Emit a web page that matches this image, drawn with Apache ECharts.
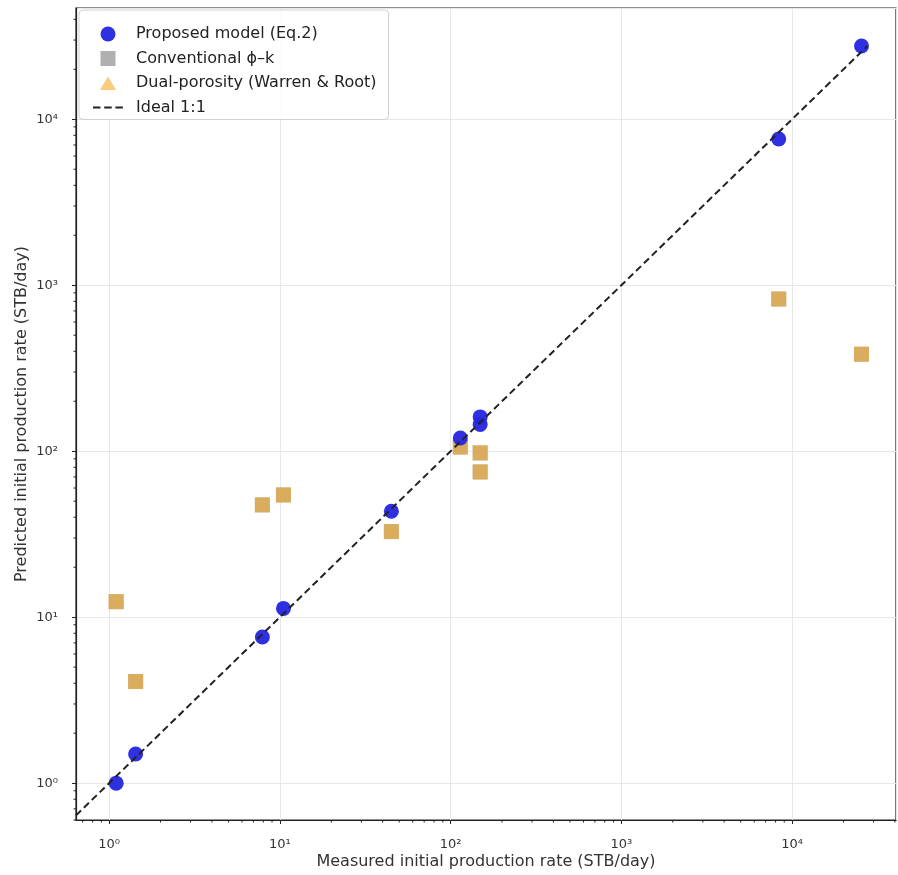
<!DOCTYPE html>
<html>
<head>
<meta charset="utf-8">
<script src="https://cdn.jsdelivr.net/npm/echarts@6/dist/echarts.min.js"></script>
<style>html,body{margin:0;padding:0;background:#fff}#c{width:898px;height:875px}</style>
</head>
<body>
<div id="c"></div>
<script>
// Measured initial production rate (STB/day)
const measured = [1.1, 1.43, 7.9, 10.5, 45, 114, 149, 149, 8350, 25500];
// Proposed model (Eq.2)
const proposed = [1.0, 1.5, 7.6, 11.3, 43.5, 120, 161, 145, 7600, 27600];
// Conventional phi-k
const conventional = [12.4, 4.1, 47.5, 54.5, 32.8, 106, 97.7, 75, 826, 384];
// Dual-porosity (Warren & Root) — overlapping conventional markers
const dualPorosity = [12.4, 4.1, 47.5, 54.5, 32.8, 106, 97.7, 75, 826, 384];
// Ideal 1:1 line end points
const idealLine = [0.64, 27500];
const xRange = [0.64, 40600];
const yRange = [0.60, 46800];

const sup = {'0':'\u2070','1':'\u00b9','2':'\u00b2','3':'\u00b3','4':'\u2074','5':'\u2075','6':'\u2076','7':'\u2077','8':'\u2078','9':'\u2079','-':'\u207b'};
function fmt(v){
  const e = Math.log10(v);
  const r = Math.round(e);
  if (Math.abs(e - r) > 1e-6) return '';
  return '10' + String(r).split('').map(c => sup[c]).join('');
}
function minorVals(lo, hi){
  const out = [];
  for (let k = Math.floor(Math.log10(lo)); k <= Math.ceil(Math.log10(hi)); k++){
    for (let m = 2; m <= 9; m++){
      const v = m * Math.pow(10, k);
      if (v > lo && v < hi) out.push(v);
    }
  }
  return out;
}
const xMinor = minorVals(xRange[0], xRange[1]);
const yMinor = minorVals(yRange[0], yRange[1]);

// legend icons (bounding box 30x15 kept by tiny corner points)
const B0 = 'M0,0h0.01v0.01h-0.01z ';
const B1 = ' M29.99,14.99h0.01v0.01h-0.01z';
const iconSquare = 'path://' + B0 + 'M7.5,0h15v15h-15z' + B1;
const iconTri = 'path://' + B0 + 'M7,14.5 L15,1 L23,14.5 Z' + B1;
const iconDash = 'path://' + B0 + 'M0,6.5h7.5v2h-7.5z M11.2,6.5h7.5v2h-7.5z M22.4,6.5h7.5v2h-7.5z' + B1;

const font = 'DejaVu Sans';
const chart = echarts.init(document.getElementById('c'), null, {renderer:'canvas'});
chart.setOption({
  animation: false,
  backgroundColor: '#fff',
  textStyle: {fontFamily: font},
  grid: {left: 76, right: 2, top: 8, bottom: 55, show: true, borderColor: '#222', borderWidth: 1.2, backgroundColor: 'transparent', containLabel: false, outerBoundsMode: 'none'},
  legend: {
    orient: 'vertical', left: 79, top: 10,
    itemWidth: 30, itemHeight: 15, itemGap: 8.5,
    padding: [16, 12, 4, 14],
    borderColor: '#d0d0d0', borderWidth: 1, borderRadius: 4, backgroundColor: 'rgba(255,255,255,0.85)',
    textStyle: {fontFamily: font, fontSize: 16, color: '#222', padding: [0, 0, 0, 8]},
    itemStyle: {borderWidth: 0},
    data: [
      {name: 'Proposed model (Eq.2)', icon: 'circle'},
      {name: 'Conventional \u03d5\u2013k', icon: iconSquare},
      {name: 'Dual-porosity (Warren & Root)', icon: iconTri},
      {name: 'Ideal 1:1', icon: iconDash}
    ]
  },
  xAxis: {
    type: 'log', logBase: 10, min: xRange[0], max: xRange[1],
    name: 'Measured initial production rate (STB/day)', nameLocation: 'middle', nameGap: 34, nameMoveOverlap: false,
    nameTextStyle: {fontFamily: font, fontSize: 16, color: '#333'},
    axisLine: {show: true, lineStyle: {color: '#222', width: 1.2}},
    axisTick: {show: true, length: 4, lineStyle: {color: '#222'}},
    axisLabel: {formatter: fmt, fontFamily: font, fontSize: 13, color: '#333', margin: 18, showMinLabel: false, showMaxLabel: false},
    splitLine: {show: true, lineStyle: {color: '#e8e8e8', width: 1}}
  },
  yAxis: {
    type: 'log', logBase: 10, min: yRange[0], max: yRange[1],
    name: 'Predicted initial production rate (STB/day)', nameLocation: 'middle', nameGap: 46, nameRotate: 90, nameMoveOverlap: false,
    nameTextStyle: {fontFamily: font, fontSize: 16, color: '#333'},
    axisLine: {show: true, lineStyle: {color: '#222', width: 1.2}},
    axisTick: {show: true, length: 4, lineStyle: {color: '#222'}},
    axisLabel: {formatter: fmt, fontFamily: font, fontSize: 13, color: '#333', margin: 18, showMinLabel: false, showMaxLabel: false},
    splitLine: {show: true, lineStyle: {color: '#e8e8e8', width: 1}}
  },
  series: [
    {
      name: 'Proposed model (Eq.2)', type: 'scatter', symbol: 'circle', symbolSize: 15, z: 4,
      itemStyle: {color: '#2525e2', opacity: 0.95},
      data: measured.map((m, i) => [m, proposed[i]])
    },
    {
      name: 'Conventional \u03d5\u2013k', type: 'scatter', symbol: 'rect', symbolSize: 15, z: 2,
      itemStyle: {color: 'rgba(150,150,150,0.75)', opacity: 1},
      data: measured.map((m, i) => [m, conventional[i]])
    },
    {
      name: 'Dual-porosity (Warren & Root)', type: 'scatter', symbol: 'rect', symbolSize: 15, z: 3,
      itemStyle: {color: 'rgba(245,170,40,0.6)', opacity: 1},
      data: measured.map((m, i) => [m, dualPorosity[i]])
    },
    {
      name: 'Ideal 1:1', type: 'line', symbol: 'none', z: 5,
      lineStyle: {color: '#222', width: 2, type: [7, 4]},
      itemStyle: {color: '#222'},
      data: idealLine.map(v => [v, v])
    },
    {
      type: 'custom', silent: true, z: 6, clip: false, legendHoverLink: false,
      data: xMinor.map(v => [v, yRange[0]]),
      renderItem: function(params, api){
        const p = api.coord([api.value(0), api.value(1)]);
        const cs = params.coordSys;
        return {type: 'line', shape: {x1: p[0], y1: cs.y + cs.height, x2: p[0], y2: cs.y + cs.height + 2.5}, style: {stroke: '#222', lineWidth: 1}};
      }
    },
    {
      type: 'custom', silent: true, z: 6, clip: false, legendHoverLink: false,
      data: yMinor.map(v => [xRange[0], v]),
      renderItem: function(params, api){
        const p = api.coord([api.value(0), api.value(1)]);
        const cs = params.coordSys;
        return {type: 'line', shape: {x1: cs.x, y1: p[1], x2: cs.x - 2.5, y2: p[1]}, style: {stroke: '#222', lineWidth: 1}};
      }
    }
  ]
});
</script>
</body>
</html>
